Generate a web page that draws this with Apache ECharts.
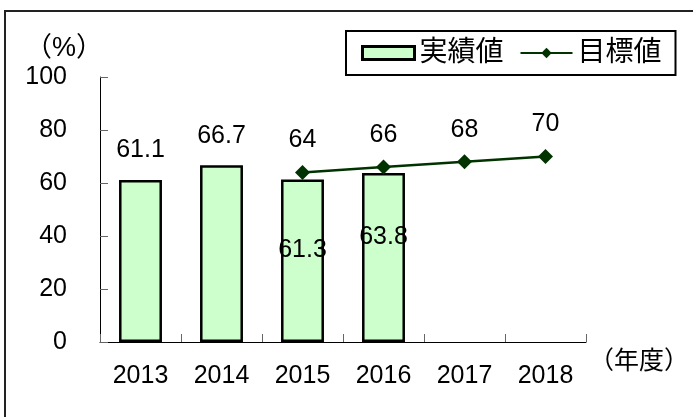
<!DOCTYPE html>
<html>
<head>
<meta charset="utf-8">
<script src="https://cdn.jsdelivr.net/npm/echarts@6/dist/echarts.min.js"></script>
<style>
  html, body { margin: 0; padding: 0; background: #fff; }
  #chart { width: 693px; height: 417px; }
</style>
</head>
<body>
<div id="chart"></div>
<script>
// Fiscal years on the category axis
const years = ['2013', '2014', '2015', '2016', '2017', '2018'];
// 実績値 (actual results, %)
const actual = [61.1, 66.7, 61.3, 63.8, null, null];
// 目標値 (targets, %)
const target = [null, null, 64, 66, 68, 70];
// Value axis ticks
const yMin = 0, yMax = 100, yStep = 20;

// Where each actual-value label sits: above the bar, or inside it with a vertical shift
const actualLabelPlacement = [
  { position: 'top' },
  { position: 'top' },
  { position: 'inside', offset: [0, -11] },
  { position: 'inside', offset: [0, -20] },
  null,
  null
];

const FONT = '"Liberation Sans", "Noto Sans CJK JP", sans-serif';

const chart = echarts.init(document.getElementById('chart'), null, { renderer: 'canvas' });

const barData = actual.map((v, i) => {
  const p = actualLabelPlacement[i];
  return p ? { value: v, label: p } : { value: v };
});

chart.setOption({
  backgroundColor: '#ffffff',
  animation: false,
  textStyle: { fontFamily: FONT },
  graphic: [{
    type: 'rect',
    shape: { x: 5, y: 11, width: 1000, height: 1000 },
    style: { fill: 'none', stroke: '#222', lineWidth: 2 },
    silent: true,
    z: 100
  }],
  legend: {
    left: 346,
    top: 31,
    orient: 'horizontal',
    borderColor: '#000',
    borderWidth: 2,
    backgroundColor: '#fff',
    padding: [8, 14, 8, 15],
    itemGap: 16,
    itemWidth: 52,
    itemHeight: 13,
    textStyle: { fontSize: 28, color: '#000', fontFamily: FONT },
    data: [
      { name: '実績値', icon: 'rect', itemStyle: { color: '#CCFFCC', borderColor: '#000', borderWidth: 3 } },
      { name: '目標値' }
    ]
  },
  grid: { left: 100, right: 107, top: 77, bottom: 75, containLabel: false, outerBoundsMode: 'none' },
  xAxis: {
    type: 'category',
    data: years,
    boundaryGap: true,
    name: '（年度）',
    nameLocation: 'end',
    nameGap: 3,
    nameMoveOverlap: false,
    nameTextStyle: { fontSize: 25, color: '#000', verticalAlign: 'top', padding: [8, 0, 0, 0], fontFamily: FONT },
    axisLine: { show: true, lineStyle: { color: '#000', width: 1 } },
    axisTick: { show: true, inside: true, length: 8, lineStyle: { color: '#666' } },
    axisLabel: { fontSize: 25, color: '#000', margin: 22, fontFamily: FONT },
    splitLine: { show: false }
  },
  yAxis: {
    type: 'value',
    min: yMin,
    max: yMax,
    interval: yStep,
    name: '（%）',
    nameLocation: 'end',
    nameGap: 15,
    nameMoveOverlap: false,
    nameTextStyle: { fontSize: 27, color: '#000', align: 'center', padding: [0, 72, 0, 0], fontFamily: FONT },
    axisLine: { show: true, lineStyle: { color: '#000', width: 1 } },
    axisTick: { show: true, inside: true, length: 8, lineStyle: { color: '#666' } },
    axisLabel: { fontSize: 25, color: '#000', margin: 33, fontFamily: FONT },
    splitLine: { show: false }
  },
  series: [
    {
      name: '実績値',
      type: 'bar',
      data: barData,
      barWidth: '53%',
      itemStyle: { color: '#CCFFCC', borderColor: '#000', borderWidth: 2.5 },
      label: {
        show: true,
        position: 'top',
        distance: 17,
        fontSize: 25,
        color: '#000',
        fontFamily: FONT
      }
    },
    {
      name: '目標値',
      type: 'line',
      data: target,
      symbol: 'diamond',
      symbolSize: 15,
      showAllSymbol: true,
      connectNulls: false,
      lineStyle: { color: '#003300', width: 2.5 },
      itemStyle: { color: '#003300' },
      label: {
        show: true,
        position: 'top',
        distance: 12,
        fontSize: 25,
        color: '#000',
        fontFamily: FONT
      },
      z: 5
    }
  ]
});
</script>
</body>
</html>
